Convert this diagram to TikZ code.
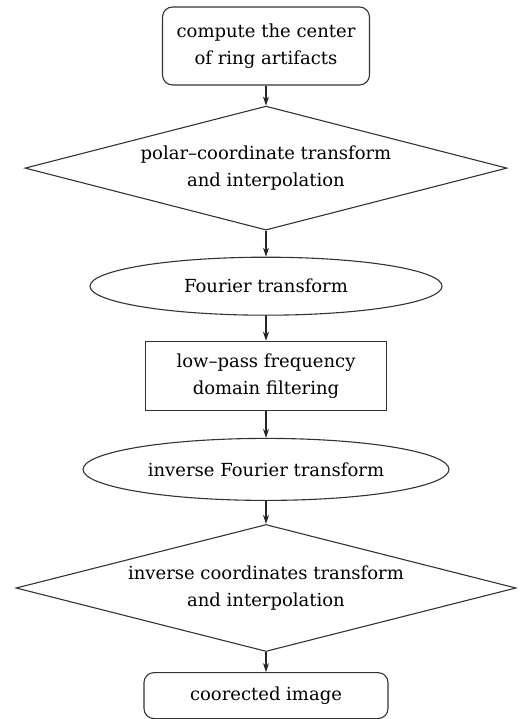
\documentclass[tikz,border=0pt]{standalone}
\usepackage{fontspec}
\setmainfont{DejaVu Serif}
\usetikzlibrary{shapes.geometric, positioning, arrows.meta}
\tikzset{
	>={Stealth[length=9pt, width=6pt]},
	node distance=25pt,
	every node/.style={line width=1.1pt, draw=black!80, align=center, inner sep=0pt, font=\fontsize{18}{27}\selectfont},
	roundbox/.style={rectangle, rounded corners=10pt},
	plainbox/.style={rectangle},
	decision/.style={diamond, aspect=3.9, minimum width=482pt, minimum height=124pt},
	oval/.style={ellipse},
	flow/.style={->, line width=1.1pt, draw=black!85},
}

\begin{document}
\begin{tikzpicture}
			\useasboundingbox (0,0) rectangle (524pt,-719pt);
			\node[roundbox, minimum width=207pt, minimum height=78pt] (CENTER) at (266pt,-46pt) {compute the center\\of ring artifacts};
			\node[decision, below=20pt of CENTER] (POLAR) {polar--coordinate transform\\and interpolation};
			\node[oval, minimum width=352pt, minimum height=58pt, below=26pt of POLAR] (FFT) {Fourier transform};
			\node[plainbox, minimum width=241pt, minimum height=69pt, below=of FFT] (FILTER) {low--pass frequency\\domain filtering};
			\node[oval, minimum width=366pt, minimum height=62pt, below=27pt of FILTER] (IFFT) {inverse Fourier transform};
			\node[decision, aspect=3.94, minimum height=127pt, minimum width=500pt, below=23pt of IFFT] (INVPOLAR) {inverse coordinates transform\\and interpolation};
			\node[roundbox, minimum width=244pt, minimum height=46pt, below=20pt of INVPOLAR] (RESULT) {coorected image};
			
			
			\draw[flow] (CENTER) -- (POLAR);
			\draw[flow] (POLAR) -- (FFT);
			\draw[flow] (FFT) -- (FILTER);
			\draw[flow] (FILTER) -- (IFFT);
			\draw[flow] (IFFT) -- (INVPOLAR);
			\draw[flow] (INVPOLAR) -- (RESULT);
		\end{tikzpicture}
\end{document}
